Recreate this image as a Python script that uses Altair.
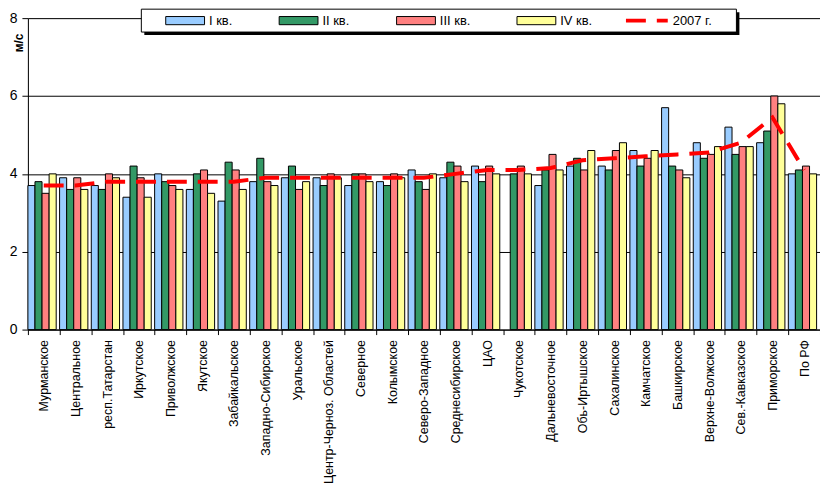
import altair as alt
import pandas as pd

regions = ["Мурманское", "Центральное", "респ.Татарстан", "Иркутское", "Приволжское",
           "Якутское", "Забайкальское", "Западно-Сибирское", "Уральское",
           "Центр-Черноз. Областей", "Северное", "Колымское", "Северо-Западное",
           "Среднесибирское", "ЦАО", "Чукотское", "Дальневосточное", "Обь-Иртышское",
           "Сахалинское", "Камчатское", "Башкирское", "Верхне-Волжское",
           "Сев.-Кавказское", "Приморское", "По РФ"]

quarters = ["I кв.", "II кв.", "III кв.", "IV кв."]
line_name = "2007 г."

q1 = [3.7, 3.9, 3.7, 3.4, 4.0, 3.6, 3.3, 3.8, 3.9, 3.9, 3.7, 3.8, 4.1, 3.9, 4.2, None,
      3.7, 4.2, 4.2, 4.6, 5.7, 4.8, 5.2, 4.8, 4.0]
q2 = [3.8, 3.6, 3.6, 4.2, 3.8, 4.0, 4.3, 4.4, 4.2, 3.7, 4.0, 3.7, 3.8, 4.3, 3.8, 4.0,
      4.1, 4.4, 4.1, 4.2, 4.2, 4.4, 4.5, 5.1, 4.1]
q3 = [3.5, 3.9, 4.0, 3.9, 3.7, 4.1, 4.1, 3.8, 3.6, 4.0, 4.0, 4.0, 3.6, 4.2, 4.2, 4.2,
      4.5, 4.1, 4.6, 4.4, 4.1, 4.5, 4.7, 6.0, 4.2]
q4 = [4.0, 3.6, 3.9, 3.4, 3.6, 3.5, 3.6, 3.7, 3.8, 3.9, 3.8, 3.9, 4.0, 3.8, 4.0, 4.0,
      4.1, 4.6, 4.8, 4.6, 3.9, 4.7, 4.7, 5.8, 4.0]
y2007 = [3.7, 3.7, 3.8, 3.8, 3.8, 3.8, 3.8, 3.9, 3.9, 3.9, 3.9, 3.9, 3.9, 4.0, 4.1, 4.1,
         4.15, 4.35, 4.4, 4.45, 4.5, 4.55, 4.8, 5.45, 4.1]

bar_colors = ["#99CCFF", "#339966", "#FF8080", "#FFFF99"]
line_color = "#FF0000"

rows = []
for qname, vals in zip(quarters, [q1, q2, q3, q4]):
    for r, v in zip(regions, vals):
        if v is not None:
            rows.append({"region": r, "quarter": qname, "value": v})
bars_df = pd.DataFrame(rows)
line_df = pd.DataFrame({"region": regions, "value": y2007})

FONT = "Arial, Liberation Sans"
RECT = "M-1,-0.21L1,-0.21L1,0.21L-1,0.21Z"

bar_legend = alt.Legend(
    orient="none", legendX=138, legendY=-17.5, direction="horizontal", columns=4,
    symbolType=RECT, symbolSize=1521, symbolStrokeColor="black",
    symbolStrokeWidth=1, symbolOpacity=1,
    padding=0, columnPadding=44, labelOffset=4,
    labelFont=FONT, labelFontSize=13, labelColor="black", labelLimit=400,
    title=None, zindex=2,
)

line_legend = alt.Legend(
    orient="none", legendX=599, legendY=-20.5, direction="horizontal",
    symbolType="stroke", symbolSize=1764, symbolStrokeColor=line_color,
    symbolStrokeWidth=4, symbolOpacity=1,
    padding=0, labelOffset=3,
    labelFont=FONT, labelFontSize=13, labelColor="black", labelLimit=400,
    title=None, zindex=2,
)

x_enc = alt.X("region:N", sort=regions,
              scale=alt.Scale(paddingInner=0, paddingOuter=0),
              axis=alt.Axis(title=None, labelAngle=270, labelAlign="right",
                            labelBaseline="middle", labelFont=FONT, labelFontSize=12.5,
                            labelColor="black", labelPadding=5, tickBand="extent",
                            tickSize=5, tickColor="black", domainColor="black",
                            grid=False, labelLimit=300))
y_enc = alt.Y("value:Q", scale=alt.Scale(domain=[0, 8], nice=False),
              axis=alt.Axis(values=[0, 2, 4, 6, 8], title="м/с", titleFont=FONT,
                            titleFontSize=12, titleFontWeight="bold", titleColor="black",
                            titleAngle=270, titleX=-5, titleY=15, titleAlign="right",
                            titleBaseline="alphabetic", labelFont=FONT, labelFontSize=14,
                            labelColor="black", labelPadding=5, tickSize=6,
                            tickColor="black", domainColor="black", grid=True,
                            gridColor="black", gridOpacity=1))

bars = alt.Chart(bars_df).mark_bar(stroke="black", strokeWidth=1, opacity=1).encode(
    x=x_enc,
    y=y_enc,
    xOffset=alt.XOffset("quarter:N", sort=quarters,
                        scale=alt.Scale(domain=quarters, paddingInner=0,
                                        paddingOuter=0.24, align=0)),
    color=alt.Color("quarter:N", scale=alt.Scale(domain=quarters, range=bar_colors),
                    legend=bar_legend),
)

line = alt.Chart(line_df).mark_line(color=line_color, strokeWidth=4,
                                    strokeCap="butt").encode(
    x=alt.X("region:N", sort=regions),
    y=alt.Y("value:Q"),
    strokeDash=alt.StrokeDash(
        "name:N",
        scale=alt.Scale(domain=[line_name], range=[[20, 11]]),
        legend=line_legend),
).transform_calculate(name="'" + line_name + "'")

# legend frame (white box with a drop shadow behind the two legends)
frame_df = pd.DataFrame({"k": [0]})
shadow = alt.Chart(frame_df).mark_rect(fill="black").encode(
    x=alt.value(117), x2=alt.value(715), y=alt.value(-6), y2=alt.value(17))
frame = alt.Chart(frame_df).mark_rect(fill="white", stroke="black",
                                      strokeWidth=1).encode(
    x=alt.value(114), x2=alt.value(712), y=alt.value(-9), y2=alt.value(14))

chart = alt.layer(bars, line, shadow, frame).properties(
    width=796, height=313,
    autosize=alt.AutoSizeParams(type="none"),
    padding={"left": 20, "top": 9, "right": 0, "bottom": 156},
).configure_view(fill="#C0C0C0", stroke="#808080", strokeWidth=1
).configure(background="white")

chart.save("out.html", embed_options={"renderer": "svg", "actions": False})
